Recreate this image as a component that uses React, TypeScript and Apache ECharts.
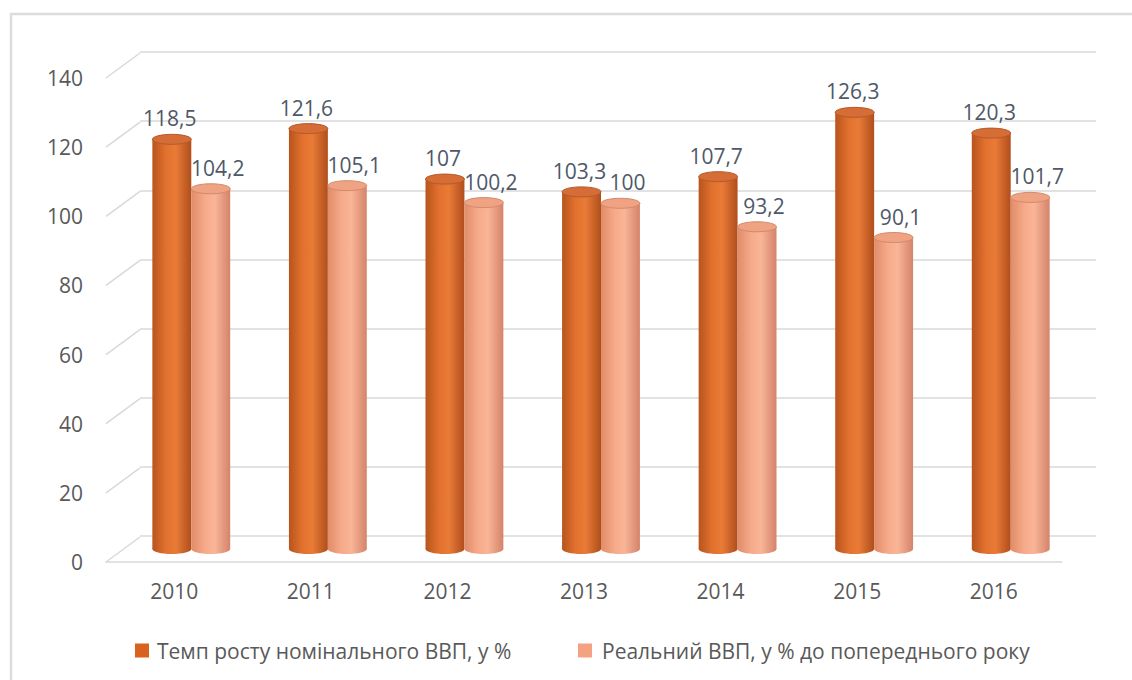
import React, { useEffect, useRef } from "react";
import * as echarts from "echarts";

const years = ["2010", "2011", "2012", "2013", "2014", "2015", "2016"];
const nominalGrowth = [118.5, 121.6, 107, 103.3, 107.7, 126.3, 120.3];
const realGdp = [104.2, 105.1, 100.2, 100, 93.2, 90.1, 101.7];
const yTicks = [0, 20, 40, 60, 80, 100, 120, 140];
const seriesNames = [
  "Темп росту номінального ВВП, у %",
  "Реальний ВВП, у % до попереднього року",
];

const FONT = "Open Sans";
const GRID_COLOR = "#d9d9d9";
const DEPTH_X = 34;
const DEPTH_Y = -25;

type Palette = {
  body: [string, string, string, string];
  cap: string;
  rim: string;
};

const darkPalette: Palette = {
  body: ["#B8541D", "#E2712E", "#E97B37", "#B04E1C"],
  cap: "#D66C36",
  rim: "#B35A2C",
};
const lightPalette: Palette = {
  body: ["#E08C68", "#F6AA8A", "#F9B597", "#D4836A"],
  cap: "#F0A383",
  rim: "#D08A6C",
};

const fmt = (v: number) => String(v).replace(".", ",");

function cylinder(side: number, pal: Palette, labelDx: number) {
  return (params: any, api: any) => {
    const cat = api.value(0);
    const v = api.value(1);
    const top = api.coord([cat, v]);
    const base = api.coord([cat, 0]);
    const band = api.size([1, 0])[0];
    const w = band * 0.285;
    const cx = top[0] + (side * w) / 2;
    const rx = w / 2;
    const ry = 5;
    const grad = () =>
      new echarts.graphic.LinearGradient(0, 0, 1, 0, [
        { offset: 0, color: pal.body[0] },
        { offset: 0.35, color: pal.body[1] },
        { offset: 0.6, color: pal.body[2] },
        { offset: 1, color: pal.body[3] },
      ]);
    return {
      type: "group",
      children: [
        {
          type: "ellipse",
          shape: { cx, cy: base[1], rx, ry },
          style: { fill: grad() },
        },
        {
          type: "rect",
          shape: { x: cx - rx, y: top[1], width: w, height: base[1] - top[1] },
          style: { fill: grad() },
        },
        {
          type: "ellipse",
          shape: { cx, cy: top[1], rx, ry },
          style: { fill: pal.cap, stroke: pal.rim, lineWidth: 1 },
        },
        {
          type: "text",
          x: cx + labelDx,
          y: top[1] - 21,
          style: {
            text: fmt(v),
            fill: "#4E5868",
            fontSize: 21,
            fontFamily: FONT,
            align: "center",
            verticalAlign: "middle",
          },
        },
      ],
    };
  };
}

export default function App() {
  const ref = useRef<HTMLDivElement>(null);

  useEffect(() => {
    if (!ref.current) return;
    const chart = echarts.init(ref.current, null, { renderer: "svg" });
    const gridBase = { width: 956, height: 484, outerBoundsMode: "none" };
    const labelStyle = { fontSize: 21, color: "#595959", fontFamily: FONT };
    chart.setOption({
      animation: false,
      backgroundColor: "#ffffff",
      textStyle: { fontFamily: FONT },
      graphic: [
        {
          type: "rect",
          shape: { x: 11, y: 14, width: 1200, height: 720 },
          style: { fill: "none", stroke: "#dcdcdc", lineWidth: 2.5 },
          silent: true,
        },
      ],
      grid: [
        { ...gridBase, left: 106, top: 78 },
        { ...gridBase, left: 140, top: 52 },
        { ...gridBase, left: 123, top: 65 },
      ],
      xAxis: [
        {
          gridIndex: 0,
          type: "category",
          data: years,
          axisLine: { show: true, lineStyle: { color: GRID_COLOR, width: 1.5 } },
          axisTick: { show: false },
          axisLabel: { ...labelStyle, margin: 18 },
        },
        { gridIndex: 1, type: "category", data: years, show: false },
        { gridIndex: 2, type: "category", data: years, show: false },
      ],
      yAxis: [
        {
          gridIndex: 0,
          type: "value",
          min: 0,
          max: 140,
          interval: 20,
          axisLine: { show: false },
          axisTick: { show: false },
          splitLine: { show: false },
          axisLabel: { ...labelStyle, margin: 23 },
        },
        {
          gridIndex: 1,
          type: "value",
          min: 0,
          max: 140,
          interval: 20,
          axisLine: { show: false },
          axisTick: { show: false },
          axisLabel: { show: false },
          splitLine: { show: true, lineStyle: { color: GRID_COLOR, width: 1.5 } },
        },
        { gridIndex: 2, type: "value", min: 0, max: 140, show: false },
      ],
      legend: [
        {
          data: [seriesNames[0]],
          left: 135,
          top: 640,
          padding: 0,
          icon: "rect",
          itemWidth: 14,
          itemHeight: 14,
          itemGap: 0,
          textStyle: { ...labelStyle, padding: [0, 0, 0, 3] },
        },
        {
          data: [seriesNames[1]],
          left: 578,
          top: 640,
          padding: 0,
          icon: "rect",
          itemWidth: 14,
          itemHeight: 14,
          textStyle: { ...labelStyle, padding: [0, 0, 0, 5] },
        },
      ],
      series: [
        {
          type: "custom",
          name: "depth",
          xAxisIndex: 0,
          yAxisIndex: 0,
          silent: true,
          data: yTicks.map((v) => [0, v]),
          encode: { x: 0, y: 1 },
          renderItem: (params: any, api: any) => {
            const cs = params.coordSys;
            const y = api.coord([0, api.value(1)])[1];
            return {
              type: "line",
              shape: { x1: cs.x, y1: y, x2: cs.x + DEPTH_X, y2: y + DEPTH_Y },
              style: { stroke: GRID_COLOR, lineWidth: 1.5 },
            };
          },
        },
        {
          type: "custom",
          name: seriesNames[0],
          xAxisIndex: 2,
          yAxisIndex: 2,
          itemStyle: { color: "#D9621F" },
          data: nominalGrowth.map((v, i) => [i, v]),
          encode: { x: 0, y: 1 },
          renderItem: cylinder(-1, darkPalette, -2),
        },
        {
          type: "custom",
          name: seriesNames[1],
          xAxisIndex: 2,
          yAxisIndex: 2,
          itemStyle: { color: "#F4A281" },
          data: realGdp.map((v, i) => [i, v]),
          encode: { x: 0, y: 1 },
          renderItem: cylinder(1, lightPalette, 7),
        },
      ],
    });
    return () => chart.dispose();
  }, []);

  return (
    <div
      ref={ref}
      style={{ position: "absolute", left: 0, top: 0, width: 1132, height: 680 }}
    />
  );
}
